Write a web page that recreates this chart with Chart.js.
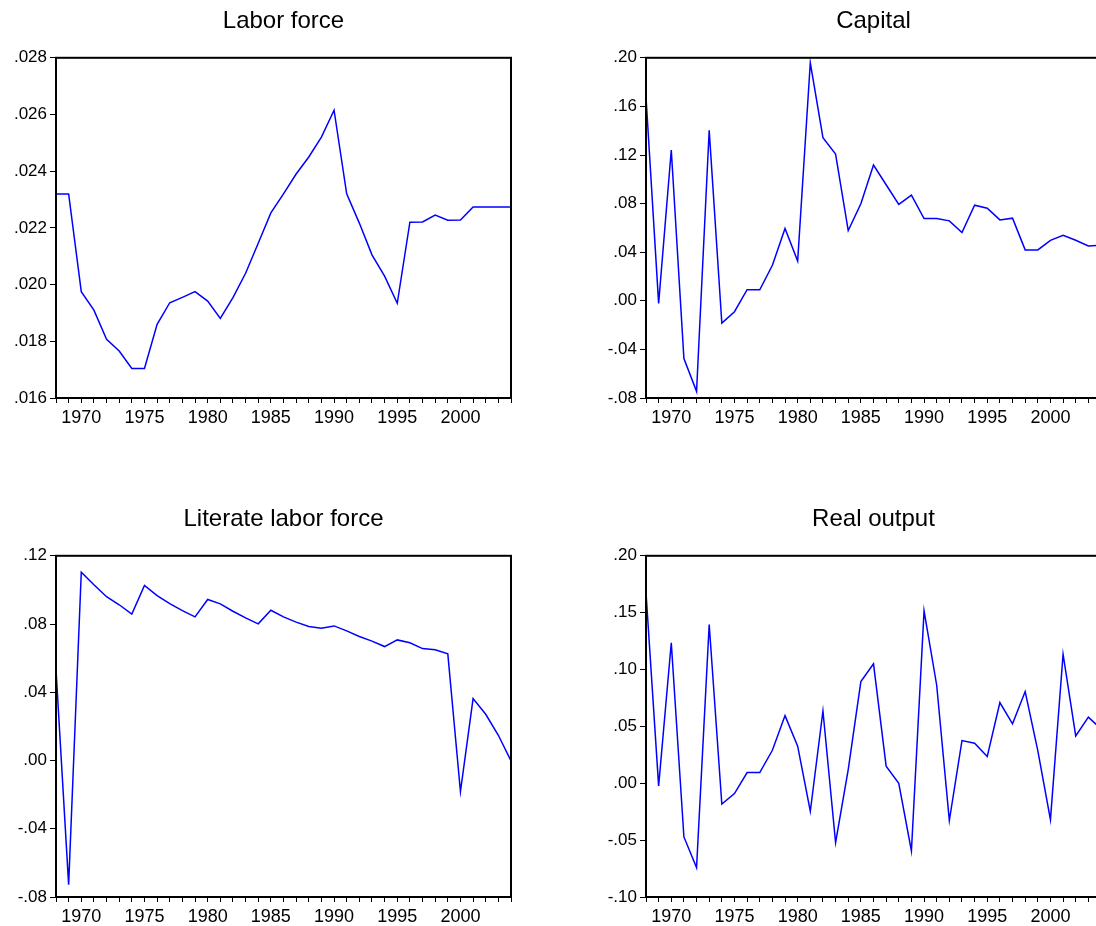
<!DOCTYPE html>
<html>
<head>
<meta charset="utf-8">
<script src="https://cdn.jsdelivr.net/npm/chart.js@4.4.1/dist/chart.umd.min.js"></script>
<style>
  html, body { margin: 0; padding: 0; background: #fff; overflow: hidden; width: 1096px; height: 926px; }
  canvas { position: absolute; }
</style>
</head>
<body>
<canvas id="labor" width="567" height="438" style="left:0;top:0"></canvas>
<canvas id="capital" width="567" height="438" style="left:590px;top:0"></canvas>
<canvas id="literate" width="567" height="439" style="left:0;top:498px"></canvas>
<canvas id="output" width="567" height="439" style="left:590px;top:498px"></canvas>
<script>
var years = ['1968','1969','1970','1971','1972','1973','1974','1975','1976','1977',
  '1978','1979','1980','1981','1982','1983','1984','1985','1986','1987',
  '1988','1989','1990','1991','1992','1993','1994','1995','1996','1997',
  '1998','1999','2000','2001','2002','2003','2004'];

var laborForce = [0.0232,0.0232,0.01975,0.0191,0.01807,0.01766,0.01704,0.01704,0.0186,0.01936,
  0.01955,0.01975,0.01942,0.01881,0.01954,0.0204,0.02146,0.02253,0.0232,0.0239,
  0.0245,0.0252,0.02615,0.0232,0.02217,0.02105,0.0203,0.01934,0.0222,0.02221,
  0.02245,0.02227,0.02228,0.02274,0.02274,0.02274,0.02274];

var capital = [0.1678,-0.0021,0.1241,-0.0475,-0.0745,0.1403,-0.0184,-0.009,0.0091,0.0091,
  0.0292,0.0595,0.0328,0.1959,0.1343,0.1208,0.0578,0.0798,0.1117,0.0955,
  0.0793,0.087,0.0677,0.0677,0.0658,0.0562,0.0787,0.0762,0.0666,0.068,
  0.0419,0.0419,0.0498,0.054,0.0498,0.0452,0.0457];

var literateLabor = [0.0533,-0.0728,0.1104,0.103,0.096,0.0913,0.0858,0.1026,0.0967,0.092,
  0.0879,0.0842,0.0944,0.0918,0.0875,0.0836,0.0801,0.0881,0.0842,0.0811,
  0.0786,0.0776,0.0789,0.076,0.0727,0.07,0.0668,0.0707,0.069,0.0656,
  0.0649,0.0625,-0.0182,0.0363,0.0271,0.0148,-0.0002];

var realOutput = [0.1677,-0.0023,0.1235,-0.0472,-0.0742,0.1396,-0.0182,-0.0091,0.0094,0.0094,
  0.029,0.0595,0.0326,-0.0246,0.0636,-0.0522,0.012,0.0894,0.105,0.015,
  0.0,-0.0595,0.1516,0.0862,-0.0328,0.0375,0.0352,0.0235,0.071,0.0522,
  0.0806,0.0287,-0.032,0.1135,0.0416,0.0581,0.0478];

var fontFam = "'Liberation Sans', Arial, sans-serif";

// frame around plot area (top and right sides too)
var framePlugin = {
  id: 'frame',
  afterDraw: function(chart) {
    var a = chart.chartArea, ctx = chart.ctx;
    ctx.save();
    ctx.strokeStyle = '#000';
    ctx.lineWidth = 2;
    ctx.strokeRect(a.left, a.top, a.right - a.left, a.bottom - a.top);
    ctx.restore();
  }
};

function fmt(v, dec) {
  return Number(v).toFixed(dec).replace(/^(-?)0\./, '$1.');
}

function makePanel(id, title, values, min, max, step, dec) {
  new Chart(id, {
    type: 'line',
    data: {
      labels: years,
      datasets: [{
        data: values,
        borderColor: '#0000ff',
        borderWidth: 1.5,
        pointRadius: 0,
        fill: false,
        tension: 0
      }]
    },
    plugins: [framePlugin],
    options: {
      responsive: false,
      animation: false,
      layout: { padding: 0 },
      plugins: {
        legend: { display: false },
        tooltip: { enabled: false },
        title: {
          display: true,
          text: title,
          color: '#000',
          font: { family: fontFam, size: 24, weight: 'normal' },
          padding: { top: 7, bottom: 22 }
        }
      },
      scales: {
        x: {
          afterFit: function(s) { s.height = 40; },
          grid: { display: true, drawOnChartArea: false, drawTicks: true, tickLength: 5, color: '#000', lineWidth: 1 },
          border: { display: true, color: '#000', width: 2 },
          ticks: {
            autoSkip: false,
            maxRotation: 0,
            padding: 4,
            color: '#000',
            font: { family: fontFam, size: 18 },
            callback: function(v, i) {
              var y = years[i];
              return (+y % 5 === 0) ? y : '';
            }
          }
        },
        y: {
          min: min,
          max: max,
          afterFit: function(s) { s.width = 56; },
          grid: { display: true, drawOnChartArea: false, drawTicks: true, tickLength: 6, color: '#000', lineWidth: 1 },
          border: { display: true, color: '#000', width: 2 },
          ticks: {
            stepSize: step,
            padding: 3,
            color: '#000',
            font: { family: fontFam, size: 17 },
            callback: function(v) { return fmt(v, dec); }
          }
        },
        // empty right-hand spacer so the title is centred over the plot
        yr: {
          position: 'right',
          display: true,
          afterFit: function(s) { s.width = 56; },
          grid: { display: false },
          border: { display: false },
          ticks: { display: false }
        }
      }
    }
  });
}

makePanel('labor', 'Labor force', laborForce, 0.016, 0.028, 0.002, 3);
makePanel('capital', 'Capital', capital, -0.08, 0.20, 0.04, 2);
makePanel('literate', 'Literate labor force', literateLabor, -0.08, 0.12, 0.04, 2);
makePanel('output', 'Real output', realOutput, -0.10, 0.20, 0.05, 2);
</script>
</body>
</html>
